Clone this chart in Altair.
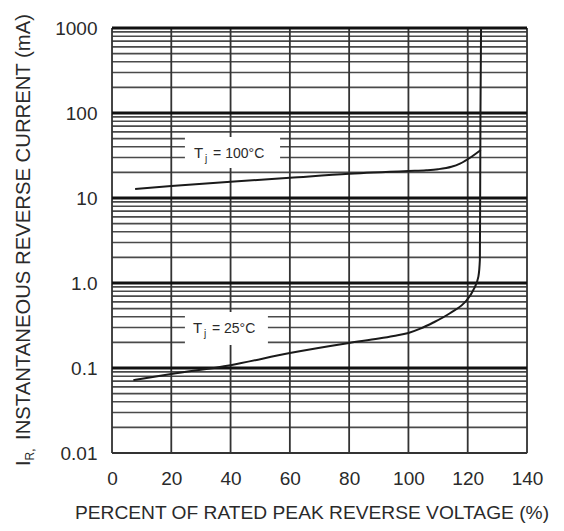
import altair as alt
import pandas as pd

FONT = "Liberation Sans, Arial, sans-serif"
TXT = "#2a2a2a"

# axis ticks
x_ticks = [0, 20, 40, 60, 80, 100, 120, 140]
x_grid = [0, 20, 40, 60, 80, 100, 120, 140]
y_ticks = [0.01, 0.1, 1, 10, 100, 1000]
y_tick_labels = ["0.01", "0.1", "1.0", "10", "100", "1000"]
y_decades = [0.1, 1, 10, 100, 1000]
y_bottom = [0.01]
minor_steps = [2, 3, 4, 5, 6, 7, 8, 9]
minor_decades = [0.01, 0.1, 1, 10, 100]

# curves (x in %, y in mA)
t25_x = [7.2, 20, 40, 60, 80, 90, 95, 100, 104, 108.4, 114.0, 119.7, 121.9, 123.6, 124.1, 124.2, 124.3, 124.5]
t25_y = [0.072, 0.085, 0.108, 0.15, 0.197, 0.222, 0.238, 0.258, 0.29, 0.343, 0.441, 0.631, 0.828, 1.19, 1.87, 10, 100, 1000]
t100_x = [7.8, 20, 40, 60, 80, 100, 106, 110, 114.5, 117.4, 121.3, 124.4]
t100_y = [12.8, 13.8, 15.5, 17.3, 19.3, 20.8, 21.2, 21.8, 23.3, 25.4, 30.6, 36.7]

# curve labels (data coordinates)
lab_names = ["= 100°C", "= 25°C"]
lab_x = [27.7, 27.3]
lab_y = [29.3, 0.258]
box_x1 = [24.6, 24.6]
box_x2 = [56.7, 52.6]
box_y1 = [22.5, 0.187]
box_y2 = [52.3, 0.456]

x_title = "PERCENT OF RATED PEAK REVERSE VOLTAGE (%)"
y_title_main = "INSTANTANEOUS REVERSE CURRENT (mA)"

xs = alt.Scale(domain=[0, 140], nice=False, zero=False)
ys = alt.Scale(type="log", domain=[0.01, 1000], nice=False)

label_expr = "datum.label"
for v, l in zip(y_ticks, y_tick_labels):
    label_expr = f"datum.value == {v} ? '{l}' : " + label_expr

X_AXIS = alt.Axis(
    values=x_ticks,
    grid=False,
    ticks=False,
    domain=False,
    labelPadding=16,
    labelFontSize=19,
    labelFont=FONT,
    labelColor=TXT,
    labelFlush=False,
    labelOverlap=False,
    title=x_title,
    titleFont=FONT,
    titleFontSize=19.2,
    titleFontWeight="normal",
    titleColor=TXT,
    titlePadding=15,
    titleX=199.5,
)
Y_AXIS = alt.Axis(
    values=y_ticks,
    format=".2~f",
    labelExpr=label_expr,
    grid=False,
    ticks=False,
    domain=False,
    labelPadding=15,
    labelFontSize=19,
    labelFont=FONT,
    labelColor=TXT,
    labelOverlap=False,
    labelBaseline="middle",
    title=None,
)


def X(f):
    return alt.X(f, scale=xs, axis=X_AXIS)


def Y(f):
    return alt.Y(f, scale=ys, axis=Y_AXIS)


minor_vals = [d * k for d in minor_decades for k in minor_steps]
df_minor = pd.DataFrame({"y": minor_vals})
df_dec = pd.DataFrame({"y": y_decades})
df_bot = pd.DataFrame({"y": y_bottom})
df_vert = pd.DataFrame({"x": x_grid})

minor = alt.Chart(df_minor).mark_rule(color="#4a4a4a", strokeWidth=1.6).encode(y=Y("y:Q"))
bottom = alt.Chart(df_bot).mark_rule(color="#333", strokeWidth=2).encode(y=Y("y:Q"))
decades = alt.Chart(df_dec).mark_rule(color="#111", strokeWidth=2.8).encode(y=Y("y:Q"))
vert = alt.Chart(df_vert).mark_rule(color="#333", strokeWidth=1.8).encode(x=X("x:Q"))

df_lab = pd.DataFrame(
    {
        "name": lab_names,
        "x": lab_x,
        "y": lab_y,
        "x1": box_x1,
        "x2": box_x2,
        "y1": box_y1,
        "y2": box_y2,
    }
)
boxes = alt.Chart(df_lab).mark_rect(color="white").encode(
    x=X("x1:Q"), x2="x2:Q", y=Y("y1:Q"), y2="y2:Q"
)

df_curves = pd.concat(
    [
        pd.DataFrame({"x": t25_x, "y": t25_y, "s": "25"}),
        pd.DataFrame({"x": t100_x, "y": t100_y, "s": "100"}),
    ]
)
curves = alt.Chart(df_curves).mark_line(
    color="#1a1a1a", strokeWidth=2, interpolate="monotone"
).encode(x=X("x:Q"), y=Y("y:Q"), detail="s:N")

lab_base = alt.Chart(df_lab).encode(x=X("x:Q"), y=Y("y:Q"))
lab_T = lab_base.mark_text(
    align="left", baseline="alphabetic", font=FONT, fontSize=15, color=TXT
).encode(text=alt.value("T"))
lab_j = lab_base.mark_text(
    align="left", baseline="alphabetic", font=FONT, fontSize=10, color=TXT, dx=11, dy=4
).encode(text=alt.value("j"))
lab_rest = lab_base.mark_text(
    align="left", baseline="alphabetic", font=FONT, fontSize=14, color=TXT, dx=19
).encode(text="name:N")

df_t1 = pd.DataFrame({"t": ["I"]})
df_t2 = pd.DataFrame({"t": ["R,"]})
df_t3 = pd.DataFrame({"t": [y_title_main]})
yt1 = alt.Chart(df_t1).mark_text(
    angle=270, align="left", baseline="alphabetic", font=FONT, fontSize=20, color=TXT
).encode(text="t:N", x=alt.value(-82), y=alt.value(438))
yt2 = alt.Chart(df_t2).mark_text(
    angle=270, align="left", baseline="alphabetic", font=FONT, fontSize=12, color=TXT
).encode(text="t:N", x=alt.value(-78), y=alt.value(432.5))
yt3 = alt.Chart(df_t3).mark_text(
    angle=270, align="left", baseline="alphabetic", font=FONT, fontSize=20.3, color=TXT
).encode(text="t:N", x=alt.value(-82), y=alt.value(412))

chart = (
    alt.layer(minor, bottom, vert, decades, boxes, curves, lab_T, lab_j, lab_rest, yt1, yt2, yt3)
    .properties(
        width=415,
        height=425,
        autosize=alt.AutoSizeParams(type="none"),
        padding={"left": 104, "top": 20, "right": 29, "bottom": 70},
    )
    .configure_view(stroke=None)
    .configure(background="white")
)

chart.save("out.html", embed_options={"renderer": "svg", "actions": False})
